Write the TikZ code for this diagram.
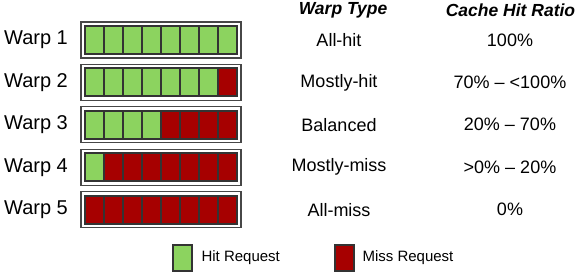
\documentclass[tikz,border=0pt]{standalone}
\usepackage{fontspec}
\setmainfont{Liberation Sans}
\usetikzlibrary{positioning}
\definecolor{hitgreen}{HTML}{8CD35F}
\definecolor{missred}{HTML}{A60000}
\definecolor{cellline}{HTML}{333333}

\begin{document}
\begin{tikzpicture}[x=1pt, y=-1pt,
    warpbox/.style={draw=cellline!90, line width=1.3pt, minimum width=160pt, minimum height=36pt, inner sep=0pt},
    cell/.style={draw=cellline, line width=2pt, minimum width=19pt, minimum height=28pt, inner sep=0pt},
    lbl/.style={font=\fontsize{20}{24}\selectfont},
    txt/.style={font=\fontsize{18}{22}\selectfont},
    head/.style={font=\fontsize{17.5}{21}\selectfont\bfseries\itshape},
    legend/.style={font=\fontsize{15}{18}\selectfont, anchor=west}
  ]
    \useasboundingbox (0,0) rectangle (581,273);

    % column headers
    \node[head] (typehead) at (343,10) {Warp Type};
    \node[head] (ratiohead) at (510.5,10) {Cache Hit Ratio};

    % one row per warp: label, request cells, type, hit ratio
    \foreach \i/\nhit/\type/\ratio in {1/8/All-hit/100\%, 2/7/Mostly-hit/{70\% -- <100\%},
        3/4/Balanced/{20\% -- 70\%}, 4/1/Mostly-miss/{>0\% -- 20\%}, 5/0/All-miss/0\%} {
      \pgfmathsetmacro\yc{40+42.4*(\i-1)}
      \node[lbl] (warp\i) at (36,\yc) {Warp \i};
      \node[warpbox] (box\i) at (161,\yc) {};
      \foreach \j in {1,...,8} {
        \ifnum\j>\nhit \def\cc{missred}\else \def\cc{hitgreen}\fi
        \node[cell, fill=\cc] (c\i-\j) at ({94.5+19*(\j-1)},\yc) {};
      }
      \node[txt] (type\i) at (339,\yc) {\type};
      \node[txt] (ratio\i) at (510,\yc) {\ratio};
    }

    % legend
    \node[cell, minimum height=26pt, fill=hitgreen] (hitkey) at (182.5,258) {};
    \node[legend] (hittext) at (198,258) {Hit Request};
    \node[cell, minimum height=26pt, fill=missred] (misskey) at (344.5,258) {};
    \node[legend] (misstext) at (359,258) {Miss Request};
  \end{tikzpicture}
\end{document}
